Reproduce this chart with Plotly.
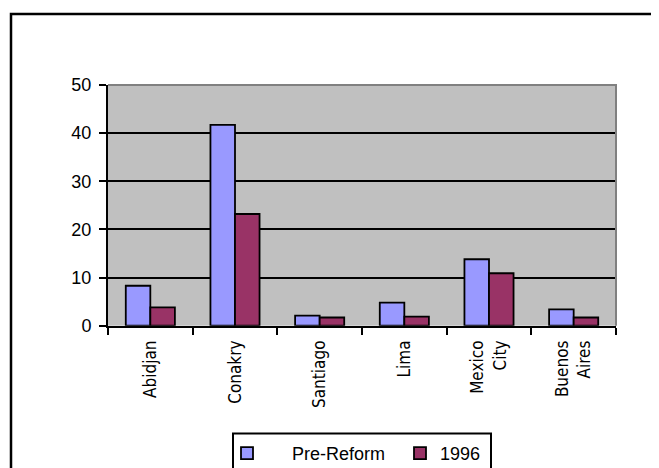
import plotly.graph_objects as go

cities = ["Abidjan", "Conakry", "Santiago", "Lima", "Mexico<br>City", "Buenos<br>Aires"]
pre_reform = [8.3, 41.7, 2.1, 4.8, 13.8, 3.4]
y1996 = [3.8, 23.2, 1.7, 1.9, 10.9, 1.7]

W, H = 659, 468
OFF = 8  # page body margin


def px(x):
    return (x - OFF) / W


def py(y):
    return 1 - (y - OFF) / H


fig = go.Figure()
fig.add_trace(go.Bar(x=cities, y=pre_reform, name="\u00a0\u00a0\u00a0\u00a0\u00a0Pre-Reform",
                     marker=dict(color="#9999FF", line=dict(color="black", width=1.8))))
fig.add_trace(go.Bar(x=cities, y=y1996, name="1996",
                     marker=dict(color="#993366", line=dict(color="black", width=1.8))))

fig.update_layout(
    width=W, height=H,
    margin=dict(l=0, r=0, t=0, b=0, autoexpand=False),
    paper_bgcolor="white",
    plot_bgcolor="#C0C0C0",
    barmode="group",
    bargap=0.42,
    bargroupgap=0,
    font=dict(family="Arial, Liberation Sans", size=18, color="black"),
    showlegend=True,
    legend=dict(orientation="h", x=px(227), y=py(435), xanchor="left", yanchor="top",
                bgcolor="rgba(0,0,0,0)", borderwidth=0,
                font=dict(family="Arial, Liberation Sans", size=18),
                entrywidth=128, entrywidthmode="pixels"),
    xaxis=dict(domain=[px(108), px(616)], type="category", automargin=False,
               showline=True, linecolor="black", linewidth=2,
               ticks="outside", tickson="boundaries", ticklen=7, tickwidth=2, tickcolor="black",
               tickangle=-90, showgrid=False, ticklabelstandoff=6,
               tickfont=dict(family="Liberation Sans Narrow, DejaVu Sans Condensed, sans-serif", size=17)),
    yaxis=dict(domain=[py(325.7), py(85)], range=[0, 50], tickvals=[0, 10, 20, 30, 40, 50],
               automargin=False,
               showline=True, linecolor="black", linewidth=2,
               ticks="outside", ticklen=7, tickwidth=2, tickcolor="black",
               showgrid=True, gridcolor="black", gridwidth=2, zeroline=False,
               ticklabelstandoff=4),
    shapes=[
        # outer chart frame (cropped at right and bottom)
        dict(type="path", xref="paper", yref="paper",
             path=f"M {px(11)} {py(480)} L {px(11)} {py(14)} L {px(700)} {py(14)}",
             line=dict(color="black", width=2.5)),
        # plot area top / right border
        dict(type="path", xref="paper", yref="paper",
             path=f"M {px(108)} {py(85)} L {px(616)} {py(85)} L {px(616)} {py(325.7)}",
             line=dict(color="#808080", width=2)),
        # legend box
        dict(type="rect", xref="paper", yref="paper",
             x0=px(233), x1=px(491), y0=py(480), y1=py(433.5),
             line=dict(color="black", width=2)),
    ],
)

fig.write_html("out.html")
